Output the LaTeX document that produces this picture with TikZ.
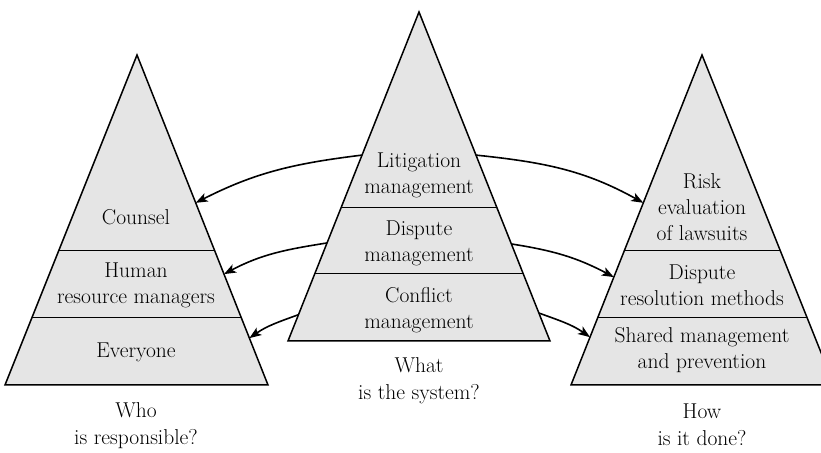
\documentclass[tikz,border=0pt]{standalone}
\usepackage{fontspec}
\usepackage{tikz}
\usetikzlibrary{arrows.meta,calc}

\begin{document}
\begin{tikzpicture}[x=1pt,y=1pt]

\tikzset{pyramid/.style = {draw,fill=black!10,line width=1.5pt}}
\tikzset{divider/.style = {line width=0.9pt}}
\tikzset{tier/.style = {align=center,font=\fontsize{21.5}{26}\selectfont}}
\tikzset{question/.style = {align=center,font=\fontsize{21.5}{27}\selectfont}}
\tikzset{edge/.style = {->,> = {Stealth[length=12pt,width=9pt,inset=3pt]},line width=1.6pt}}

\useasboundingbox (0,0) rectangle (821,452);

% corners
\coordinate (Ltop) at (137,397);
\coordinate (Lbl) at (5,67);
\coordinate (Lbr) at (268,67);
\coordinate (Ctop) at (419,440);
\coordinate (Cbl) at (288,111);
\coordinate (Cbr) at (550,111);
\coordinate (Rtop) at (702,397);
\coordinate (Rbl) at (571,67);
\coordinate (Rbr) at (834,67);

% pyramids
\draw[pyramid] (Ltop) -- (Lbl) -- (Lbr) -- cycle;
\draw[pyramid] (Ctop) -- (Cbl) -- (Cbr) -- cycle;
\draw[pyramid] (Rtop) -- (Rbl) -- (Rbr) -- cycle;

% tiers
\draw[divider] ($(Ltop)!0.591!(Lbl)$) -- ($(Ltop)!0.591!(Lbr)$);
\draw[divider] ($(Ltop)!0.794!(Lbl)$) -- ($(Ltop)!0.794!(Lbr)$);
\draw[divider] ($(Ctop)!0.593!(Cbl)$) -- ($(Ctop)!0.593!(Cbr)$);
\draw[divider] ($(Ctop)!0.796!(Cbl)$) -- ($(Ctop)!0.796!(Cbr)$);
\draw[divider] ($(Rtop)!0.591!(Rbl)$) -- ($(Rtop)!0.591!(Rbr)$);
\draw[divider] ($(Rtop)!0.794!(Rbl)$) -- ($(Rtop)!0.794!(Rbr)$);

% labels
\node[tier] (counsel) at (136,235) {Counsel};
\node[tier] (hrm) at (136,167) {Human\\resource managers};
\node[tier] (everyone) at (136,100) {Everyone};
\node[question] (who) at (136,26) {Who\\is responsible?};

\node[tier] (litigation) at (419,277) {Litigation\\management};
\node[tier] (dispute) at (419,209) {Dispute\\management};
\node[tier] (conflict) at (419,142) {Conflict\\management};
\node[question] (what) at (419,71) {What\\is the system?};

\node[tier] (risk) at (702,245) {Risk\\evaluation\\of lawsuits};
\node[tier] (resolution) at (702,167) {Dispute\\resolution methods};
\node[tier] (shared) at (702,102) {Shared management\\and prevention};
\node[question] (how) at (702,27) {How\\is it done?};

% ends of the arrows on the sides
\coordinate (Cl1) at ($(Ctop)!0.435!(Cbl)$);
\coordinate (Cl2) at ($(Ctop)!0.702!(Cbl)$);
\coordinate (Cl3) at ($(Ctop)!0.920!(Cbl)$);
\coordinate (Cr1) at ($(Ctop)!0.435!(Cbr)$);
\coordinate (Cr2) at ($(Ctop)!0.705!(Cbr)$);
\coordinate (Cr3) at ($(Ctop)!0.915!(Cbr)$);
\coordinate (Lr1) at ($(Ltop)!0.448!(Lbr)$);
\coordinate (Lr2) at ($(Ltop)!0.664!(Lbr)$);
\coordinate (Lr3) at ($(Ltop)!0.858!(Lbr)$);
\coordinate (Rl1) at ($(Rtop)!0.448!(Rbl)$);
\coordinate (Rl2) at ($(Rtop)!0.673!(Rbl)$);
\coordinate (Rl3) at ($(Rtop)!0.855!(Rbl)$);

%edges
\draw[edge] (Cl1) to[out=187,in=27] (Lr1);
\draw[edge] (Cl2) to[out=189,in=28] (Lr2);
\draw[edge] (Cl3) to[out=200,in=35] (Lr3);
\draw[edge] (Cr1) to[out=-6,in=151] (Rl1);
\draw[edge] (Cr2) to[out=-9,in=152] (Rl2);
\draw[edge] (Cr3) to[out=-20,in=145] (Rl3);

\end{tikzpicture}
\end{document}
